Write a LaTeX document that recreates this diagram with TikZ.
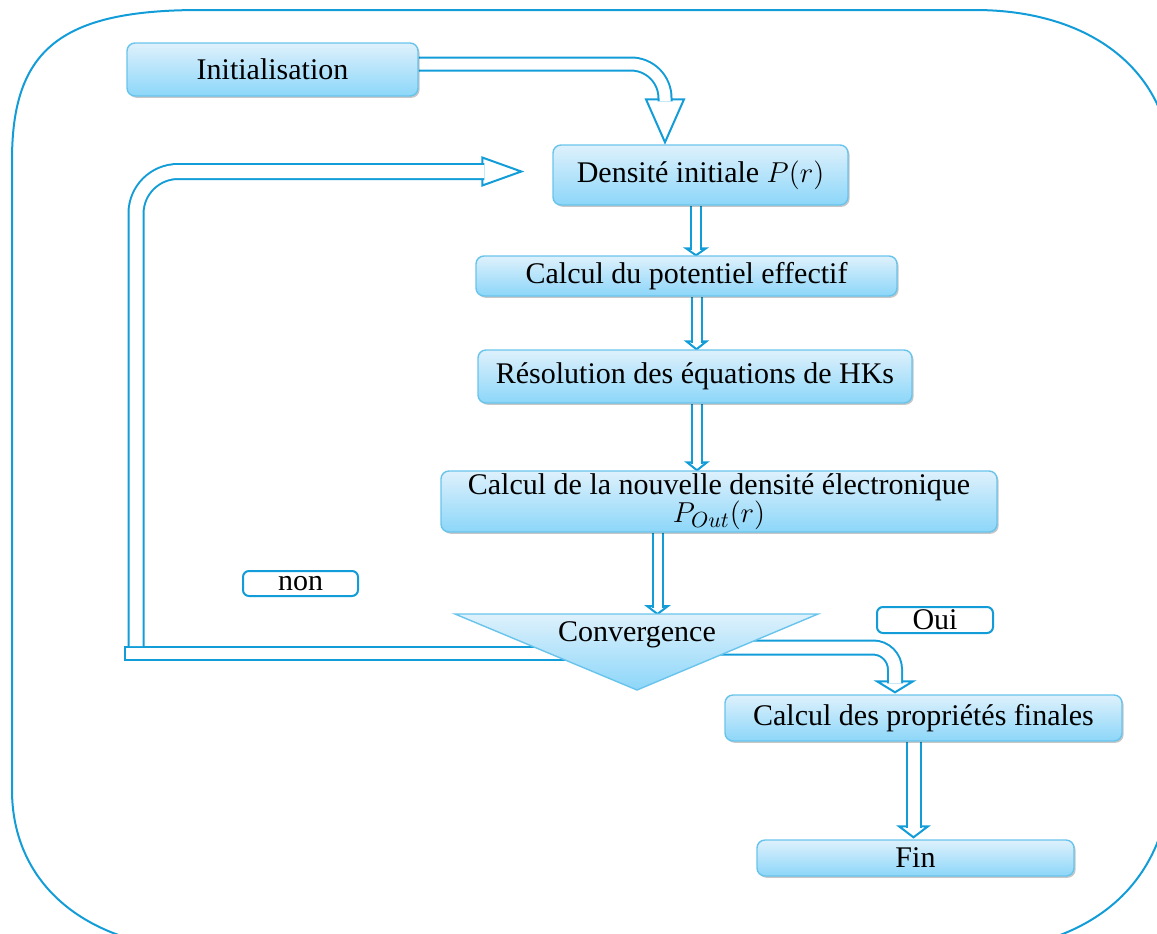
\documentclass[tikz,border=0pt]{standalone}
\usepackage{fontspec}
\setmainfont{Liberation Serif}
\usetikzlibrary{calc,shadows}
\definecolor{ablue}{RGB}{18,157,216}
\definecolor{btop}{RGB}{222,241,252}
\definecolor{bbot}{RGB}{140,214,249}
\definecolor{bedge}{RGB}{105,196,236}
\pgfdeclarelayer{bg}
\pgfsetlayers{bg,main}
\tikzset{
 box/.style={draw=bedge, line width=0.7pt, rounded corners=4pt, top color=btop, bottom color=bbot,
   inner sep=0pt, align=center, font=\fontsize{15}{15}\selectfont,
   drop shadow={shadow xshift=0.8pt, shadow yshift=-0.9pt, opacity=0.22, fill=black}},
 lbl/.style={draw=ablue, line width=1pt, rounded corners=3pt, fill=white, inner sep=0pt,
   font=\fontsize{15}{15}\selectfont},
 shaft/.style={draw=ablue, line width=1pt, double=white, double distance=#1},
 shaft/.default=4pt,
 ahead/.style={draw=ablue, fill=white, line width=1pt, line join=miter},
 frame/.style={draw=ablue, line width=1pt},
}
% #1 start, #2 apex, #3 head length, #4 head half width, #5 gap
\newcommand{\vArrow}[5]{%
 \draw[ahead] ($(#2)+(-#4,-#3)$) -- (#2) -- ($(#2)+(#4,-#3)$) -- cycle;
 \draw[shaft=#5] (#1) -- ($(#2)+(0,-#3+2)$);
}
\begin{document}
\begin{tikzpicture}[x=0.5pt,y=-0.5pt]
\useasboundingbox (0,0) rectangle (1157,933);
\begin{scope}
\clip (0,0) rectangle (1157,933);
\draw[frame] (12,160) .. controls (12,50) and (60,10) .. (200,10) -- (975,10)
  .. controls (1090,10) and (1170,70) .. (1172,170) -- (1172,760)
  .. controls (1172,870) and (1110,935) .. (1000,950) -- (200,950)
  .. controls (80,945) and (12,880) .. (12,790) -- cycle;
\end{scope}

% boxes
\node[box, minimum width=145.5pt, minimum height=26.5pt] (init) at (272.5,69.5) {Initialisation};
\node[box, minimum width=147.5pt, minimum height=30pt] (dens) at (700.5,175) {Densité initiale $P(r)$};
\node[box, minimum width=210.5pt, minimum height=20pt] (pot) at (686.5,276) {Calcul du potentiel effectif};
\node[box, minimum width=217pt, minimum height=26.5pt] (reso) at (695,376.5) {Résolution des équations de HKs};
\node[box, minimum width=278pt, minimum height=30.5pt] (nouv) at (719,501.5) {Calcul de la nouvelle densité électronique\\[-1pt]$P_{Out}(r)$};
\node[box, minimum width=198.5pt, minimum height=23pt] (prop) at (923.5,718) {Calcul des propriétés finales};
\node[box, minimum width=158.5pt, minimum height=18pt] (fin) at (915.5,858) {Fin};
\node[lbl, minimum width=57.5pt, minimum height=12.5pt] (non) at (300.5,583.5) {non};
\node[lbl, minimum width=58pt, minimum height=13pt] (oui) at (935,620) {Oui};

% decision triangle
\path[top color=btop, bottom color=bbot, draw=bedge, line width=0.7pt]
  (455,614) -- (818,614) -- (637,690) -- cycle;
\coordinate (tri) at (637,614);
\node[inner sep=0pt, font=\fontsize{15}{15}\selectfont] (conv) at (637,635) {Convergence};

\begin{pgfonlayer}{bg}
% Initialisation -> Densite
\coordinate (p1) at ($(dens.north)+(-35.5,-2)$);
\draw[ahead] ($(p1)+(-19,-43)$) -- (p1) -- ($(p1)+(19,-43)$) -- cycle;
\draw[shaft=5.5pt, rounded corners=17pt] ($(init.east)+(0,-5.5)$) -| ($(p1)+(0,-41)$);

% straight arrows
\coordinate (c2) at (696,0);
\coordinate (s2) at (c2 |- dens.south); \coordinate (e2) at (c2 |- pot.north);
\vArrow{s2}{e2}{7}{10}{4pt}
\coordinate (c3) at (696.5,0);
\coordinate (s3) at (c3 |- pot.south); \coordinate (e3) at (c3 |- reso.north);
\vArrow{s3}{e3}{8}{10}{4pt}
\coordinate (c4) at (697,0);
\coordinate (s4) at (c4 |- reso.south); \coordinate (e4) at (c4 |- nouv.north);
\vArrow{s4}{e4}{8}{10}{4pt}
\coordinate (c5) at (657.5,0);
\coordinate (s5) at (c5 |- nouv.south); \coordinate (e5) at (c5 |- tri);
\vArrow{s5}{e5}{8}{10.5}{4pt}
\coordinate (c6) at (913.5,0);
\coordinate (s6) at (c6 |- prop.south); \coordinate (e6) at ($(c6 |- fin.north)+(0,-2)$);
\vArrow{s6}{e6}{11}{14.5}{6pt}

% Oui : Convergence -> proprietes
\coordinate (p7) at ($(prop.north)+(-28.5,-2)$);
\draw[ahead] ($(p7)+(-18,-11)$) -- (p7) -- ($(p7)+(18,-11)$) -- cycle;
\draw[shaft=6pt, rounded corners=11pt] ($(conv.east)+(-20,12.5)$) -| ($(p7)+(0,-9)$);

% non : Convergence -> Densite
\draw[ahead] (125,647) rectangle ($(conv.west)+(45,25)$);
\coordinate (p8) at ($(dens.west)+(-31,-3.5)$);
\draw[ahead] ($(p8)+(-39,-14)$) -- (p8) -- ($(p8)+(-39,14)$) -- cycle;
\draw[shaft=6.5pt, rounded corners=21pt] (136,646) |- ($(p8)+(-37,0)$);
\end{pgfonlayer}
\end{tikzpicture}
\end{document}
